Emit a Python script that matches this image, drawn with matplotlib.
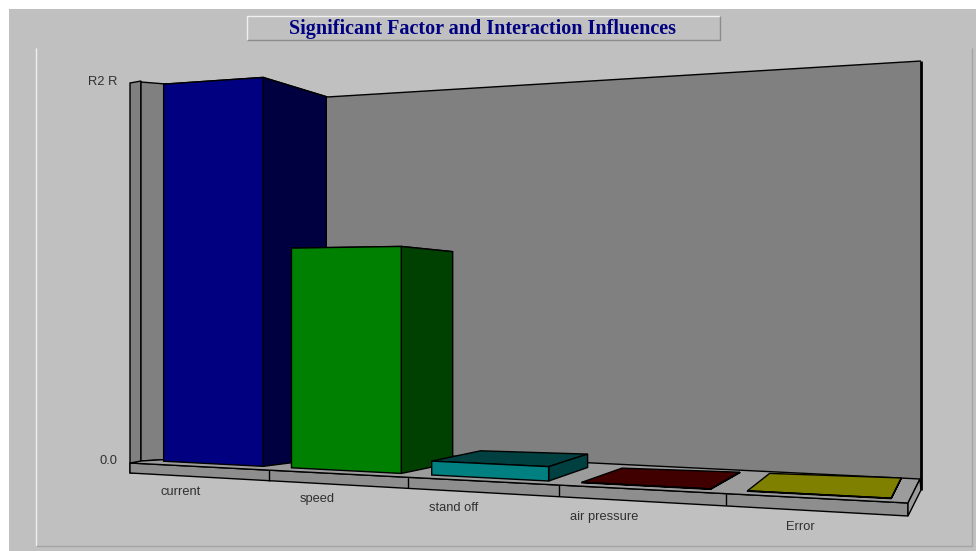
import numpy as np
import matplotlib
matplotlib.use('Agg')
import matplotlib.pyplot as plt
from matplotlib.patches import Polygon, Rectangle

factors = ['current', 'speed', 'stand off', 'air pressure', 'Error']
influence = [1.0, 0.56, 0.034, 0.001, 0.001]
front_cols = ['#000080', '#008000', '#008080', '#800000', '#808000']
side_cols = ['#000040', '#004000', '#004040', '#400000', '#404000']
top_cols = ['#000040', '#004000', '#004040', '#400000', '#808000']
title = 'Significant Factor and Interaction Influences'
ytick_labels = ['R2 R', '0.0']

# category edges along the front of the bars, and the slab's tick marks
edge_x = [146, 272, 411, 559, 722, 904]
tick_x = [269, 408, 559, 726]
BAR_LO, BAR_HI = 0.14, 0.93
BG = '#c0c0c0'
WALL = '#808080'

plt.rcParams['font.family'] = ['Liberation Sans', 'DejaVu Sans']
fig = plt.figure(figsize=(9.76, 5.51), dpi=100, facecolor='white')
ax = fig.add_axes([0, 0, 1, 1])
ax.set_xlim(0, 976)
ax.set_ylim(551, 0)
ax.axis('off')


def poly(pts, fc, ec='black', lw=1.0, z=2):
    ax.add_patch(Polygon(pts, closed=True, fc=fc, ec=ec, lw=lw, zorder=z, joinstyle='miter'))


def line(xs, ys, c='black', lw=1.0, z=3):
    ax.plot(xs, ys, color=c, lw=lw, zorder=z, solid_capstyle='butt')


def front_y(x):
    return 463 + (x - 130) * 0.0514


def corner(u, back, v):
    # u along the categories, back = 0/1 front or rear of a bar, v value
    fx = np.interp(u, range(len(edge_x)), edge_x)
    fy = front_y(fx) - 3.5
    h = 377 + 0.119 * (fx - 163)
    if back:
        dx = 63 - 0.0844 * (fx - 264) + (4 if i == 3 else 0)
        dy = -8 - 0.0195 * (fx - 264)
        return fx + dx, fy + dy - v * h * 0.93
    return fx, fy - v * h


# panel and sunken plot area
ax.add_patch(Rectangle((9, 9), 967, 542, fc=BG, ec='none', zorder=0))
line([36, 36], [48, 546], '#f0f0f0', 1.0, 1)
line([972, 972], [48, 546], '#a4a4a4', 1.0, 1)
line([36, 972], [546, 546], '#a4a4a4', 1.0, 1)

# title box
line([247, 247, 720], [40, 16, 16], '#f0f0f0', 1.0, 2)
line([247, 720, 720], [40, 40, 16], '#8c8c8c', 1.0, 2)
ax.text(482.5, 29, title, ha='center', va='center', color='#000080', fontsize=14.5,
        fontweight='bold', family=['Liberation Serif', 'DejaVu Serif'], zorder=3)

# walls
poly([(130, 83), (141, 81), (141, 473), (130, 473)], WALL, z=1.5)
poly([(141, 82), (327, 97), (327, 450), (141, 461)], WALL, z=1.6)
poly([(327, 97), (921, 61), (921, 480), (327, 450)], WALL, ec='none', z=1.7)
line([327, 921], [97, 61], 'black', 1.0, 1.8)
line([921, 921], [61, 490], 'black', 2.0, 1.9)

# floor slab
poly([(130, 463), (908, 503), (908, 516), (130, 473)], '#8e8e8e', z=1.8)
poly([(130, 463), (141, 461), (327, 450), (920, 479), (908, 503)], '#9c9c9c', z=1.85)
poly([(908, 503), (920, 479), (921, 490), (908, 516)], '#9c9c9c', z=1.85)
for e in tick_x:
    line([e, e], [front_y(e), front_y(e) + 11], 'black', 1.0, 1.9)

# bars, left to right so nearer sides overlap
for i, v in enumerate(influence):
    lo, hi = i + BAR_LO, i + BAR_HI
    poly([corner(lo, 0, v), corner(hi, 0, v), corner(hi, 1, v), corner(lo, 1, v)], top_cols[i], z=2 + i)
    poly([corner(hi, 0, 0), corner(hi, 1, 0), corner(hi, 1, v), corner(hi, 0, v)], side_cols[i], z=2 + i)
    poly([corner(lo, 0, 0), corner(hi, 0, 0), corner(hi, 0, v), corner(lo, 0, v)], front_cols[i], z=2 + i)

# labels
label_x = [181, 317, 454, 604.5, 800]
label_y = [492, 499, 508, 517, 527]
for name, x, y in zip(factors, label_x, label_y):
    ax.text(x, y, name, ha='center', va='center', fontsize=9.3, color='#303030', zorder=10)
ax.text(117, 82, ytick_labels[0], ha='right', va='center', fontsize=9.3, color='#303030')
ax.text(117, 461, ytick_labels[1], ha='right', va='center', fontsize=9.3, color='#303030')

fig.savefig('out.png', dpi=100, facecolor='white')
